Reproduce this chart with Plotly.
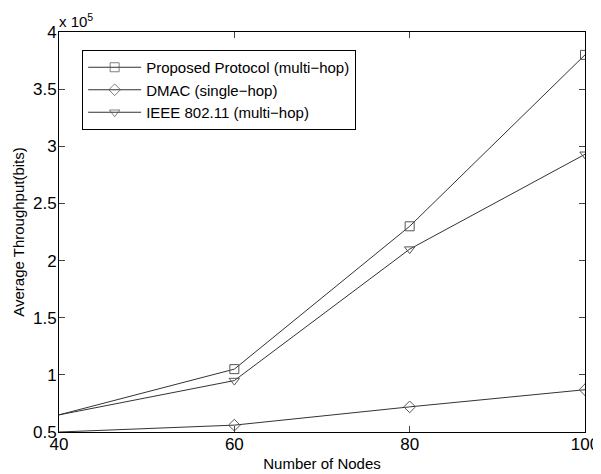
import plotly.graph_objects as go

nodes = [40, 60, 80, 100]
proposed = [65000, 105000, 230000, 380000]
dmac = [50000, 56000, 72000, 87000]
ieee = [65000, 95000, 210000, 293000]

y_ticks = [50000, 100000, 150000, 200000, 250000, 300000, 350000, 400000]
y_tick_labels = ["0.5", "1", "1.5", "2", "2.5", "3", "3.5", "4"]
x_ticks = [40, 60, 80, 100]

series = [
    ("Proposed Protocol (multi\u2212hop)", proposed, "square-open"),
    ("DMAC (single\u2212hop)", dmac, "diamond-open"),
    ("IEEE 802.11 (multi\u2212hop)", ieee, "triangle-down-open"),
]

fig = go.Figure()
for name, vals, sym in series:
    fig.add_trace(go.Scatter(
        x=nodes, y=vals, name=name, mode="lines+markers",
        line=dict(color="#333333", width=1),
        marker=dict(symbol=sym, size=9, color="#555555",
                    opacity=[0, 1, 1, 1],
                    line=dict(color="#555555", width=1)),
        cliponaxis=True,
    ))

fig.update_layout(
    width=593, height=466,
    margin=dict(l=51, r=16, t=24, b=42, autoexpand=False),
    paper_bgcolor="white", plot_bgcolor="white",
    font=dict(family="Liberation Sans, Arial, sans-serif", size=16, color="black"),
    showlegend=True,
    legend=dict(x=0.044, y=0.955, xanchor="left", yanchor="top",
                bordercolor="black", borderwidth=1, bgcolor="white",
                font=dict(size=15), tracegroupgap=0, itemwidth=53),
    annotations=[dict(text="x 10<sup>5</sup>", xref="paper", yref="paper",
                      x=0.0, y=1.0, xanchor="left", yanchor="bottom",
                      showarrow=False, font=dict(size=15), yshift=0, xshift=-2)],
)
fig.update_xaxes(
    range=[40, 100], tickvals=x_ticks, ticks="inside", ticklen=6,
    showline=True, linecolor="black", linewidth=1, mirror="ticks",
    showgrid=False, zeroline=False, tickfont=dict(size=17),
    ticklabelstandoff=-3, automargin=False,
    title=dict(text="Number of Nodes", font=dict(size=15), standoff=5),
)
fig.update_yaxes(
    range=[50000, 400000], tickvals=y_ticks, ticktext=y_tick_labels,
    ticks="inside", ticklen=6,
    showline=True, linecolor="black", linewidth=1, mirror="ticks",
    showgrid=False, zeroline=False, tickfont=dict(size=17),
    ticklabelstandoff=-2, automargin=False,
    title=dict(text="Average Throughput(bits)", font=dict(size=15), standoff=4),
)

fig.write_html("out.html")
